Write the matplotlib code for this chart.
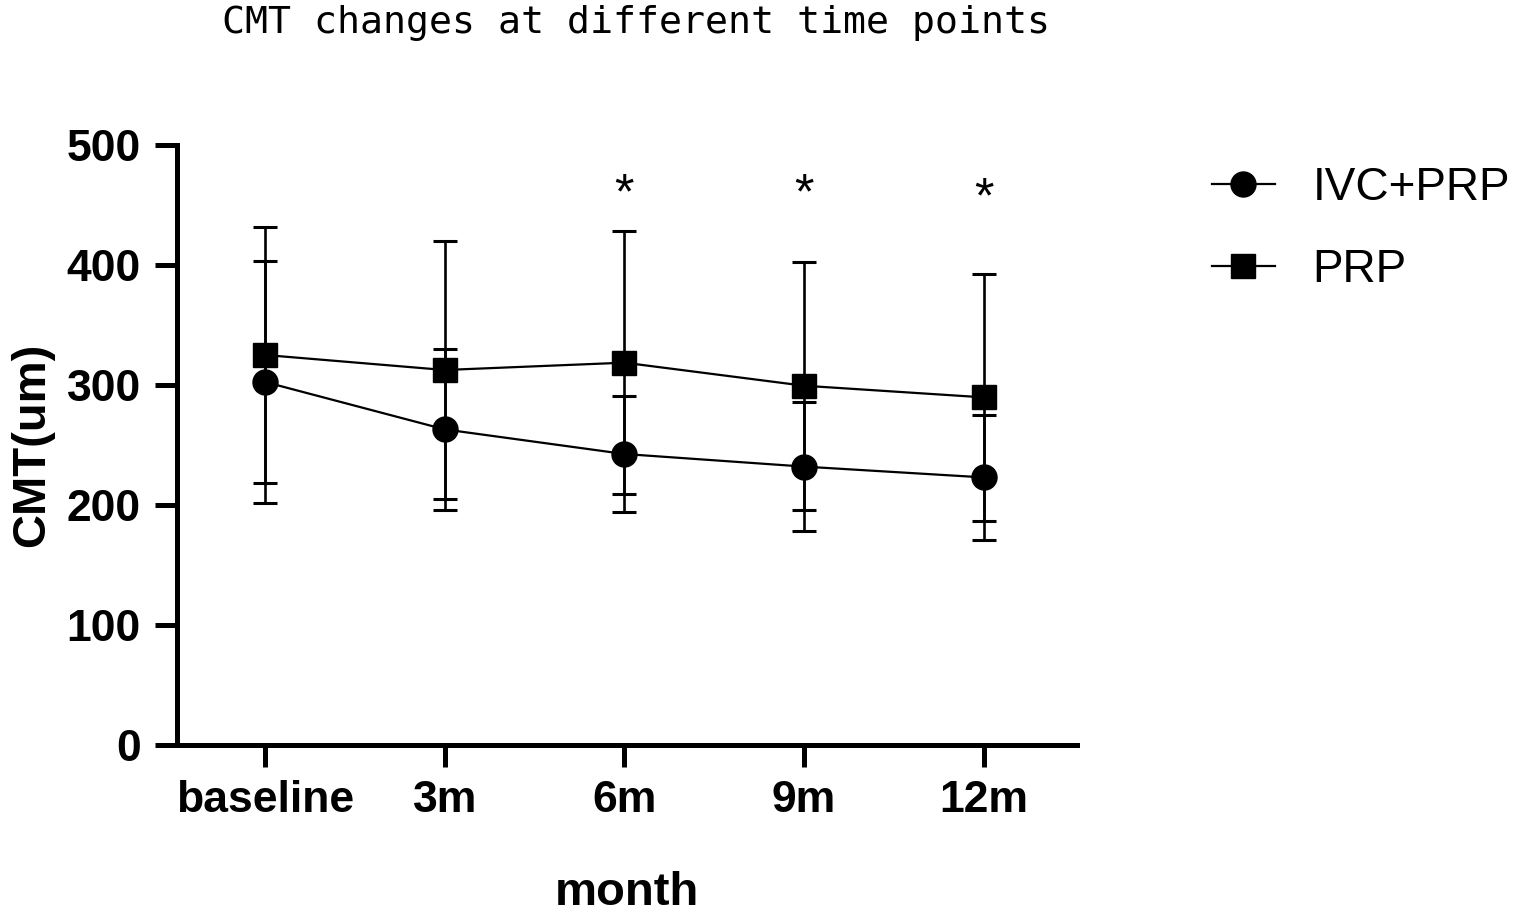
import numpy as np
import matplotlib.pyplot as plt

# Data (mean +/- SD, CMT in um)
months = ["baseline", "3m", "6m", "9m", "12m"]
ivc_mean = [302.5, 263, 242.5, 232, 223]
ivc_sd = [100.5, 67, 48, 53.7, 51.8]
prp_mean = [325, 312.5, 318.6, 299.4, 289.7]
prp_sd = [106.4, 107.7, 109.8, 103.4, 103.1]

# significance marks
sig_idx = [2, 3, 4]
sig_y = [458, 458, 455]

plt.rcParams['font.family'] = ['Liberation Sans', 'DejaVu Sans']

fig = plt.figure(figsize=(15.21, 9.13), dpi=100)
ax = fig.add_axes([0.1164, 0.184, 0.5917, 0.6572])

x = np.arange(len(months))

ax.errorbar(x, ivc_mean, yerr=ivc_sd, fmt='-o', color='black', ms=18, lw=1.6,
            elinewidth=1.9, capsize=8.3, capthick=2.2, label='IVC+PRP', zorder=3)
ax.errorbar(x, prp_mean, yerr=prp_sd, fmt='-s', color='black', ms=17, lw=1.6,
            elinewidth=1.9, capsize=8.3, capthick=2.2, label='PRP', zorder=3)

for i, yy in zip(sig_idx, sig_y):
    ax.text(x[i], yy, '*', ha='center', va='center', fontsize=36)

ax.set_xlim(-0.49, 4.52)
ax.set_ylim(0, 500)
ax.set_yticks([0, 100, 200, 300, 400, 500])
ax.set_xticks(x)
ax.set_xticklabels(months)

for s in ['top', 'right']:
    ax.spines[s].set_visible(False)
for s in ['left', 'bottom']:
    ax.spines[s].set_linewidth(3.6)

ax.tick_params(axis='both', width=3.6, length=16, labelsize=32)
ax.tick_params(axis='x', pad=9)
ax.tick_params(axis='y', pad=10)
for lab in ax.get_xticklabels() + ax.get_yticklabels():
    lab.set_fontweight('bold')

ax.set_xlabel('month', fontsize=34, fontweight='bold', labelpad=36)
ax.set_ylabel('CMT(um)', fontsize=34, fontweight='bold', labelpad=9)

fig.text(0.418, 0.975, 'CMT changes at different time points', ha='center', va='center',
         fontsize=27.5, family=['DejaVu Sans Mono'])

handles, labels = ax.get_legend_handles_labels()
handles = [h[0] for h in handles]
fig.legend(handles, labels, loc='upper left', bbox_to_anchor=(0.797, 0.818),
           frameon=False, fontsize=33, handlelength=1.36, handletextpad=0.83,
           labelspacing=0.82, borderpad=0, borderaxespad=0)

fig.savefig('out.png', dpi=100)
